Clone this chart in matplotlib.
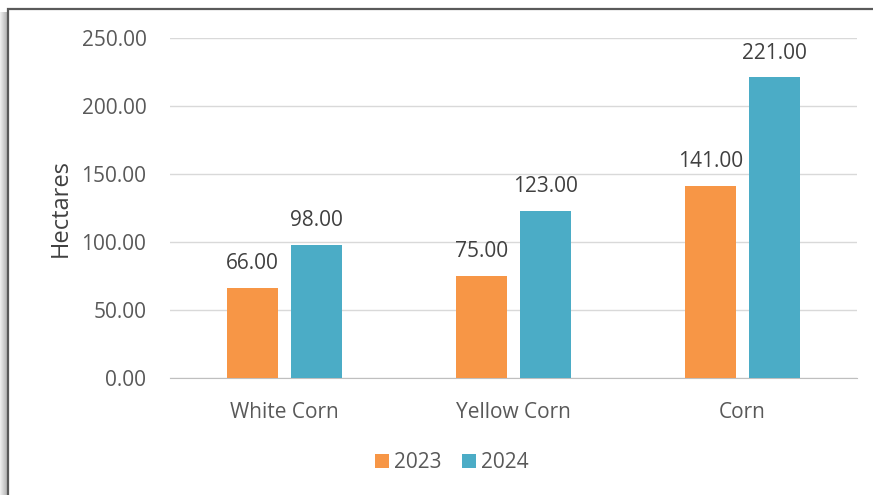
import matplotlib.pyplot as plt
import numpy as np
from matplotlib.patches import Rectangle

categories = ["White Corn", "Yellow Corn", "Corn"]
values_2023 = [66.00, 75.00, 141.00]
values_2024 = [98.00, 123.00, 221.00]
series_labels = ["2023", "2024"]

ORANGE = "#F79646"
TEAL = "#4BACC6"
TEXT = "#595959"

plt.rcParams['font.family'] = ['Open Sans', 'DejaVu Sans']

W, H = 873, 495
fig = plt.figure(figsize=(W / 100, H / 100), dpi=100)
ax = fig.add_axes([170 / W, 1 - 378 / H, 687 / W, 340 / H])

# soft shadow left of the frame
for i in range(7):
    shade = 0.93 - 0.035 * i
    fig.patches.append(Rectangle((i / W, -0.05), 1 / W, 1 - 12 / H + 0.05, transform=fig.transFigure,
                                 facecolor=(shade, shade, shade), edgecolor="none", zorder=0))
# outer frame
fig.patches.append(Rectangle((7.5 / W, -0.05), 1.0, 1 - 9 / H + 0.05, transform=fig.transFigure,
                             facecolor="none", edgecolor="#5A5A5A", linewidth=1.6, zorder=1))

x = np.arange(len(categories))
width = 0.223
offset = 0.14

b1 = ax.bar(x - offset, values_2023, width, color=ORANGE, label=series_labels[0], zorder=3)
b2 = ax.bar(x + offset, values_2024, width, color=TEAL, label=series_labels[1], zorder=3)

for bars in (b1, b2):
    for rect in bars:
        h = rect.get_height()
        ax.annotate(f"{h:.2f}", (rect.get_x() + rect.get_width() / 2, h),
                    xytext=(0, 10), textcoords="offset points",
                    ha="center", va="bottom", fontsize=15, color="#404040")

ax.set_xlim(-0.5, 2.5)
ax.set_ylim(0, 250)
ax.set_yticks(np.arange(0, 251, 50))
ax.set_yticklabels([f"{v:.2f}" for v in np.arange(0, 251, 50)])
ax.set_xticks(x)
ax.set_xticklabels(categories)
ax.tick_params(axis="both", length=0, labelsize=15, colors=TEXT)
ax.tick_params(axis="y", pad=17)
ax.tick_params(axis="x", pad=17)

ax.grid(axis="y", color="#D9D9D9", linewidth=1, zorder=0)
for side in ("top", "right", "left"):
    ax.spines[side].set_visible(False)
ax.spines["bottom"].set_color("#BFBFBF")

ax.set_ylabel("Hectares", fontsize=17, color="#404040", labelpad=6)

fig.legend(handles=[b1, b2], labels=series_labels, loc="center",
           bbox_to_anchor=(452 / W, 1 - 463 / H), ncol=2, frameon=False,
           fontsize=15, handlelength=0.65, handleheight=0.65, handletextpad=0.25,
           columnspacing=1.0, labelcolor=TEXT)

fig.savefig("out.png", dpi=100)
